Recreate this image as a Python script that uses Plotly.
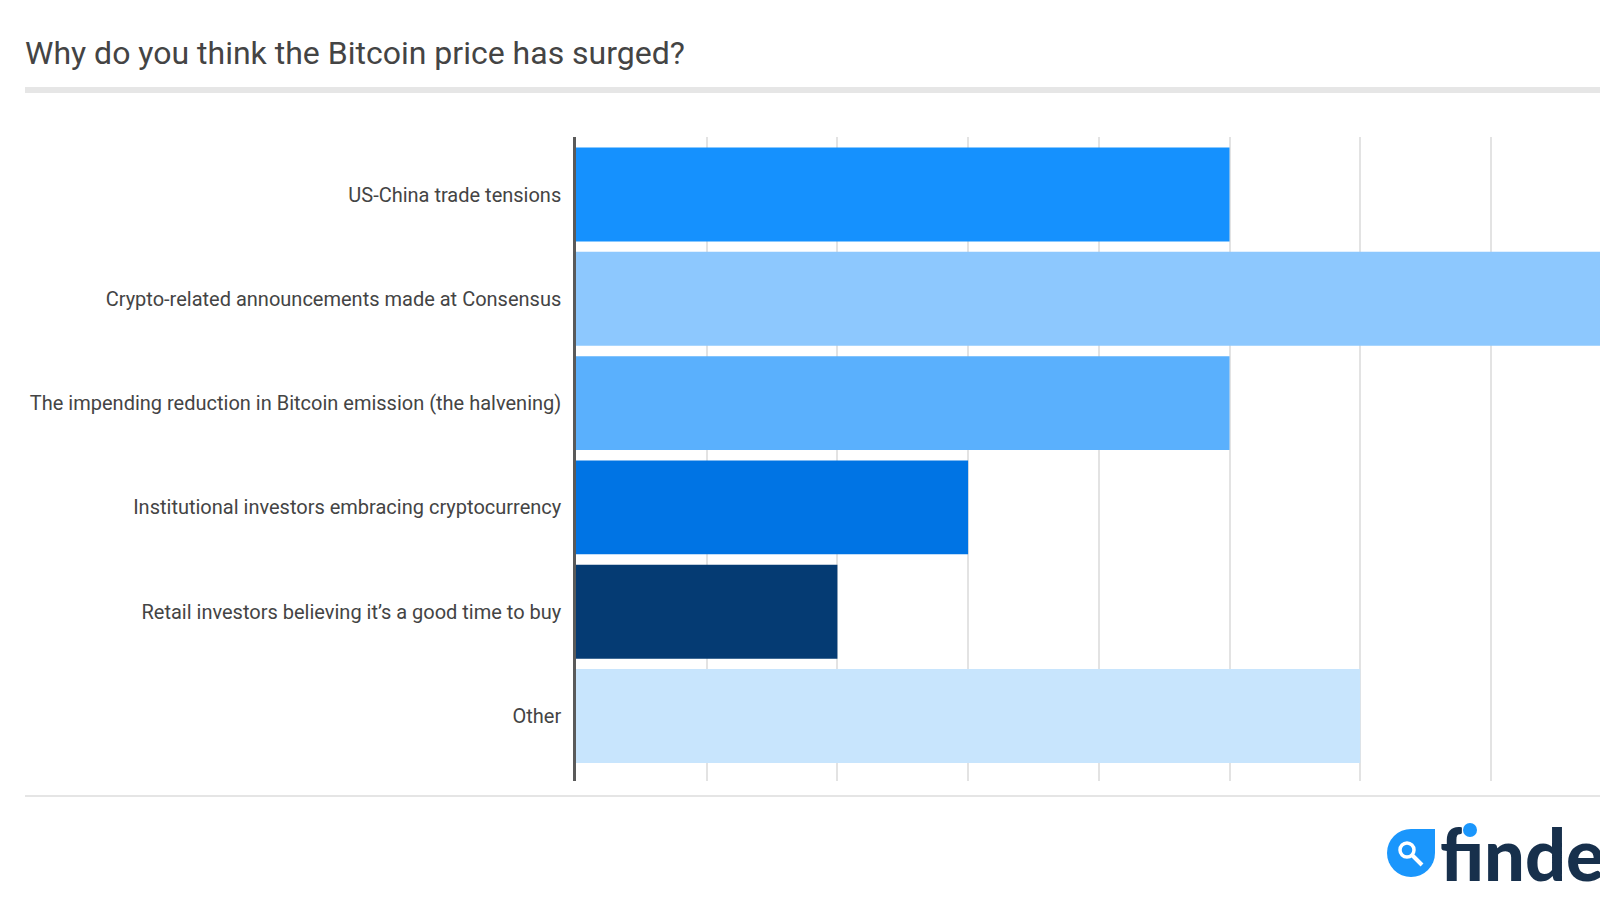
import plotly.graph_objects as go

categories = [
    "US-China trade tensions",
    "Crypto-related announcements made at Consensus",
    "The impending reduction in Bitcoin emission (the halvening)",
    "Institutional investors embracing cryptocurrency",
    "Retail investors believing it\u2019s a good time to buy",
    "Other",
]
values = [5, 8, 5, 3, 2, 6]
colors = ["#1591fe", "#8dc8fe", "#5ab0fd", "#0074e4", "#053b73", "#c8e5fd"]
title_text = "Why do you think the Bitcoin price has surged?"

W, H = 1600, 900
L, T, B = 576, 137, 781
PW, PH = W - L, B - T


def px(x):
    return (x - L) / PW


def py(y):
    return 1 - (y - T) / PH


fig = go.Figure(go.Bar(
    y=categories, x=values, orientation="h",
    marker=dict(color=colors, line=dict(width=0)),
    hoverinfo="x+y",
))

BLUE = "#1a96fc"
shapes = [
    dict(type="rect", xref="paper", yref="paper", x0=px(25), x1=px(1600),
         y0=py(93), y1=py(87), fillcolor="#e6e6e6", line=dict(width=0), layer="below"),
    dict(type="line", xref="paper", yref="paper", x0=px(25), x1=px(1600),
         y0=py(796), y1=py(796), line=dict(color="#dddddd", width=1.5)),
    # logo drop
    dict(type="circle", xref="paper", yref="paper", x0=px(1387), x1=px(1435),
         y0=py(877), y1=py(829), fillcolor=BLUE, line=dict(width=0)),
    dict(type="rect", xref="paper", yref="paper", x0=px(1411), x1=px(1435),
         y0=py(853), y1=py(829), fillcolor=BLUE, line=dict(width=0)),
    dict(type="circle", xref="paper", yref="paper", x0=px(1400), x1=px(1414),
         y0=py(857), y1=py(843), fillcolor="rgba(0,0,0,0)", line=dict(color="white", width=3.5)),
    dict(type="line", xref="paper", yref="paper", x0=px(1412), x1=px(1422),
         y0=py(855), y1=py(865), line=dict(color="white", width=4)),
    # blue dot of the "i"
    dict(type="circle", xref="paper", yref="paper", x0=px(1463), x1=px(1477),
         y0=py(837), y1=py(823), fillcolor=BLUE, line=dict(width=0)),
]

annotations = [
    dict(text="f\u0131nder", xref="paper", yref="paper", x=px(1438), y=py(898),
         xanchor="left", yanchor="bottom", showarrow=False,
         font=dict(family="Lato", size=72, color="#17304c", weight=900)),
]

fig.update_layout(
    width=W, height=H,
    margin=dict(l=L, r=0, t=T, b=H - B, autoexpand=False),
    paper_bgcolor="white", plot_bgcolor="white",
    showlegend=False,
    bargap=0.1,
    title=dict(text=title_text, xref="container", yref="container",
               x=25 / W, xanchor="left", y=1 - 53 / H, yanchor="middle",
               font=dict(family="Roboto", size=32, color="#444444")),
    xaxis=dict(range=[0, PW / 130.7], dtick=1, tick0=0, showgrid=True,
               gridcolor="#e3e3e3", gridwidth=1.5, showticklabels=False,
               zeroline=False, showline=False, fixedrange=True),
    yaxis=dict(categoryorder="array", categoryarray=categories,
               range=[5 + (B - 716) / 104.3, -57.5 / 104.3],
               showline=True, linecolor="#5a5a5a", linewidth=2.5,
               ticks="", ticklabelstandoff=8,
               tickfont=dict(family="Roboto", size=20, color="#444444"),
               showgrid=False, zeroline=False, fixedrange=True),
    shapes=shapes,
    annotations=annotations,
)

fig.write_html(
    "out.html",
    config={"displayModeBar": False},
    post_script="document.body.style.margin='0';document.body.style.overflow='hidden';",
)
